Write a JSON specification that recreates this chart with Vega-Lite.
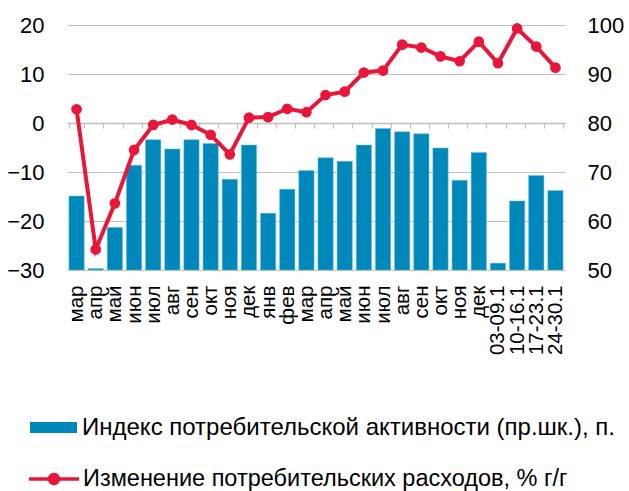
{
  "$schema": "https://vega.github.io/schema/vega-lite/v6.json",
  "width": 498,
  "height": 245,
  "autosize": {"type": "none"},
  "padding": {"left": 67, "top": 25, "right": 64, "bottom": 221},
  "background": "white",
  "config": {
    "font": "Liberation Sans",
    "view": {"stroke": null},
    "axis": {"labelFont": "Liberation Sans", "labelColor": "#000000"},
    "legend": {"labelFont": "Liberation Sans", "labelColor": "#000000"}
  },
  "data": {
    "values": [
      {"k": "мар 2020", "idx": 65.1, "chg": 2.8},
      {"k": "апр 2020", "idx": 50.3, "chg": -25.8},
      {"k": "май 2020", "idx": 58.7, "chg": -16.4},
      {"k": "июн 2020", "idx": 71.4, "chg": -5.5},
      {"k": "июл 2020", "idx": 76.6, "chg": -0.4},
      {"k": "авг 2020", "idx": 74.7, "chg": 0.7},
      {"k": "сен 2020", "idx": 76.6, "chg": -0.4},
      {"k": "окт 2020", "idx": 75.8, "chg": -2.4},
      {"k": "ноя 2020", "idx": 68.5, "chg": -6.4},
      {"k": "дек 2020", "idx": 75.5, "chg": 1.1},
      {"k": "янв 2021", "idx": 61.6, "chg": 1.2},
      {"k": "фев 2021", "idx": 66.5, "chg": 2.9},
      {"k": "мар 2021", "idx": 70.3, "chg": 2.2},
      {"k": "апр 2021", "idx": 72.9, "chg": 5.7},
      {"k": "май 2021", "idx": 72.2, "chg": 6.4},
      {"k": "июн 2021", "idx": 75.5, "chg": 10.3},
      {"k": "июл 2021", "idx": 78.9, "chg": 10.7},
      {"k": "авг 2021", "idx": 78.2, "chg": 16.0},
      {"k": "сен 2021", "idx": 77.8, "chg": 15.4},
      {"k": "окт 2021", "idx": 74.9, "chg": 13.6},
      {"k": "ноя 2021", "idx": 68.3, "chg": 12.6},
      {"k": "дек 2021", "idx": 74.0, "chg": 16.6},
      {"k": "03-09.1", "idx": 51.4, "chg": 12.2},
      {"k": "10-16.1", "idx": 64.1, "chg": 19.3},
      {"k": "17-23.1", "idx": 69.3, "chg": 15.6},
      {"k": "24-30.1", "idx": 66.2, "chg": 11.3}
    ]
  },
  "encoding": {
    "x": {
      "field": "k",
      "type": "nominal",
      "sort": null,
      "scale": {"paddingInner": 0.2, "paddingOuter": 0.1},
      "axis": {
        "title": null,
        "orient": "bottom",
        "offset": -147,
        "domain": true,
        "domainColor": "#bfbfbf",
        "domainWidth": 1.5,
        "ticks": true,
        "tickColor": "#bfbfbf",
        "tickSize": 5,
        "tickWidth": 1.2,
        "tickBand": "extent",
        "grid": false,
        "labelAngle": 270,
        "labelFontSize": 20.5,
        "labelPadding": 157,
        "labelExpr": "isString(datum.value) ? split(datum.value, ' ')[0] : ''"
      }
    }
  },
  "layer": [
    {
      "mark": {"type": "bar", "stroke": "#6cc3e3", "strokeWidth": 0.5},
      "encoding": {
        "y": {
          "field": "idx",
          "type": "quantitative",
          "scale": {"domain": [50, 100], "zero": false, "nice": false},
          "axis": {
            "orient": "right",
            "title": null,
            "values": [50, 60, 70, 80, 90, 100],
            "grid": false,
            "domain": false,
            "ticks": false,
            "labelFontSize": 22,
            "labelPadding": 22
          }
        },
        "y2": {"datum": 50},
        "fill": {
          "datum": "Индекс потребительской активности (пр.шк.), п.",
          "type": "nominal",
          "scale": {"range": ["#0088bb"]},
          "legend": {
            "title": null,
            "orient": "none",
            "legendX": -37,
            "legendY": 379,
            "padding": 0,
            "symbolType": "M-1,-0.234H1V0.234H-1Z",
            "symbolSize": 2209,
            "symbolStrokeWidth": 0,
            "labelFontSize": 24,
            "labelLimit": 700,
            "labelOffset": 5
          }
        }
      }
    },
    {
      "mark": {"type": "line", "strokeWidth": 4, "point": {"filled": true, "size": 115, "opacity": 1}},
      "encoding": {
        "y": {
          "field": "chg",
          "type": "quantitative",
          "scale": {"domain": [-30, 20], "nice": false},
          "axis": {
            "orient": "left",
            "title": null,
            "values": [-30, -20, -10, 0, 10, 20],
            "grid": true,
            "gridColor": "#c0c0c0",
            "gridWidth": 1.2,
            "domain": false,
            "ticks": false,
            "labelFontSize": 22,
            "labelPadding": 23
          }
        },
        "color": {
          "datum": "Изменение потребительских расходов,  % г/г",
          "type": "nominal",
          "scale": {"range": ["#e8173a"]},
          "legend": {
            "title": null,
            "orient": "none",
            "legendX": -40,
            "legendY": 427,
            "padding": 0,
            "symbolType": "M-1,0H1M-0.18,0A0.18,0.18,0,1,0,0.18,0A0.18,0.18,0,1,0,-0.18,0Z",
            "symbolSize": 2500,
            "symbolStrokeWidth": 3.5,
            "symbolFillColor": "#e8173a",
            "labelFontSize": 23.5,
            "labelLimit": 700,
            "labelOffset": 2,
            "encode": {"symbols": {"update": {"fill": {"value": "#e8173a"}, "stroke": {"value": "#e8173a"}, "opacity": {"value": 1}}}}
          }
        }
      }
    }
  ],
  "resolve": {"scale": {"y": "independent"}, "axis": {"y": "independent"}}
}
